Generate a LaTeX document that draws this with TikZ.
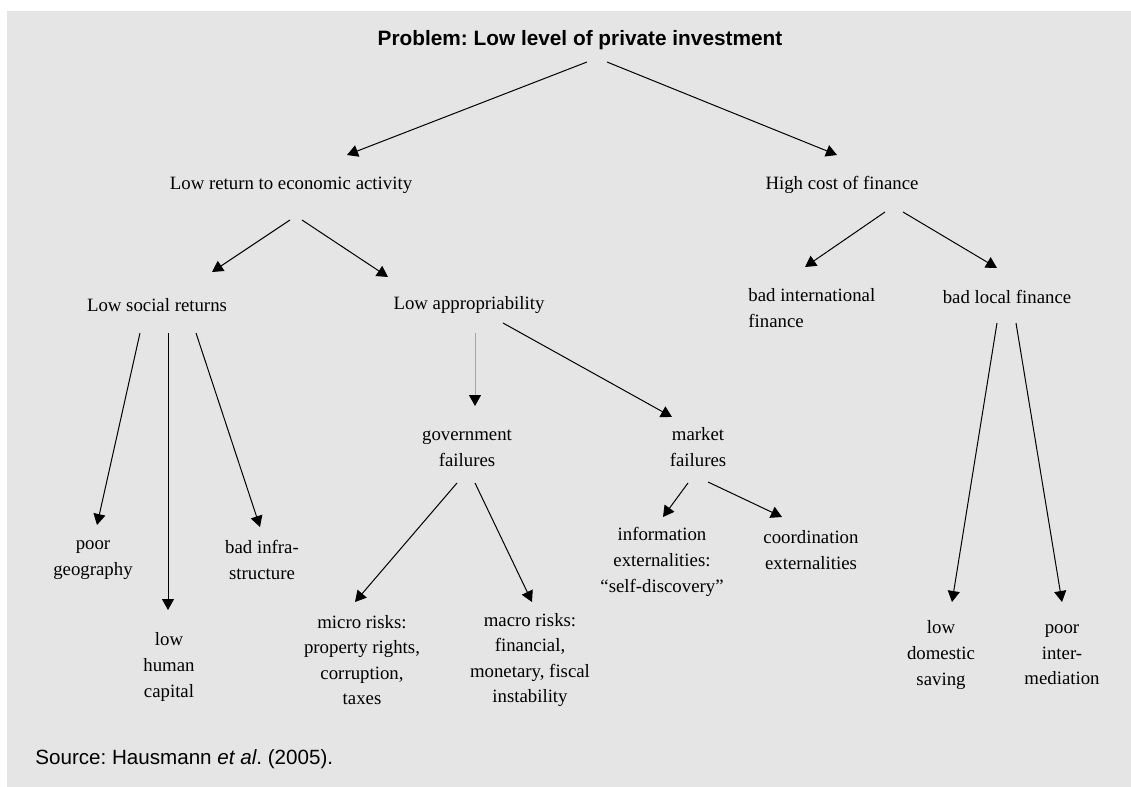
\documentclass[tikz,border=0pt]{standalone}
\usepackage{fontspec}
\setmainfont{Liberation Serif}
\setsansfont{Liberation Sans}
\usepackage{tikz}
\usetikzlibrary{arrows.meta}
\usepackage{xcolor}
\definecolor{panel}{RGB}{229,229,229}
\definecolor{paleline}{RGB}{165,165,165}
\frenchspacing

\begin{document}
\begin{tikzpicture}[
        x=0.5pt, y=-0.5pt,
        every node/.style={font=\fontsize{9.4}{12.8}\selectfont, inner sep=0pt},
        cause/.style={align=center},
        heading/.style={font=\fontsize{10.4}{12}\selectfont\sffamily\bfseries},
        source/.style={font=\fontsize{10.3}{12}\selectfont\sffamily, anchor=west},
        arrowstyle/.style={-{Triangle[length=5.5pt, width=6pt, color=black]}, line width=0.5pt, black}
    ]
        \useasboundingbox (0,0) rectangle (1131,787);
        \fill[panel] (7,11) rectangle (1131,787);

        \node[heading] (top) at (580,40) {Problem: Low level of private investment};

        \node[cause] (lra) at (291,185) {Low return to economic activity};
        \node[cause] (hcf) at (842,185) {High cost of finance};

        \node[cause] (lsr) at (157,305) {Low social returns};
        \node[cause] (lap) at (469,305) {Low appropriability};
        \node[align=left, anchor=west] (bif) at (748,308) {bad international\\finance};
        \node[cause] (blf) at (1007,297) {bad local finance};

        \node[cause] (gf) at (467,448) {government\\failures};
        \node[cause] (mf) at (698,447) {market\\failures};

        \node[cause] (pg) at (93,560) {poor\\geography};
        \node[cause] (lhc) at (169,667) {low\\human\\capital};
        \node[cause] (bis) at (262,560) {bad infra-\\structure};
        \node[cause] (mir) at (362,660) {micro risks:\\property rights,\\corruption,\\taxes};
        \node[cause] (mar) at (530,660) {macro risks:\\financial,\\monetary, fiscal\\instability};
        \node[cause] (ie) at (662,562) {information\\externalities:\\“self-discovery”};
        \node[cause] (ce) at (811,550) {coordination\\externalities};
        \node[cause] (lds) at (941,655) {low\\domestic\\saving};
        \node[cause] (pim) at (1062,655) {poor\\inter-\\mediation};

        \node[source] (src) at (35,759) {Source: Hausmann \textit{et al}. (2005).};

        \draw[arrowstyle] ([shift={(7,22)}]top.center) -- ([shift={(56,-30)}]lra.center);
        \draw[arrowstyle] ([shift={(27,22)}]top.center) -- ([shift={(-5,-30)}]hcf.center);
        \draw[arrowstyle] ([shift={(-1,35)}]lra.center) -- ([shift={(55,-33)}]lsr.center);
        \draw[arrowstyle] ([shift={(11,35)}]lra.center) -- ([shift={(-81,-28)}]lap.center);
        \draw[arrowstyle] ([shift={(43,27)}]hcf.center) -- ([shift={(57,-41)}]bif.west);
        \draw[arrowstyle] ([shift={(61,27)}]hcf.center) -- ([shift={(-10,-29)}]blf.center);
        \draw[arrowstyle] ([shift={(-17,28)}]lsr.center) -- ([shift={(4,-35)}]pg.center);
        \draw[arrowstyle] ([shift={(11,28)}]lsr.center) -- ([shift={(-1,-57)}]lhc.center);
        \draw[arrowstyle] ([shift={(39,28)}]lsr.center) -- ([shift={(-2,-33)}]bis.center);
        \draw[arrowstyle, draw=paleline] ([shift={(6,28)}]lap.center) -- ([shift={(8,-42)}]gf.center);
        \draw[arrowstyle] ([shift={(34,18)}]lap.center) -- ([shift={(-26,-30)}]mf.center);
        \draw[arrowstyle] ([shift={(-10,35)}]gf.center) -- ([shift={(-7,-58)}]mir.center);
        \draw[arrowstyle] ([shift={(8,35)}]gf.center) -- ([shift={(2,-58)}]mar.center);
        \draw[arrowstyle] ([shift={(-10,36)}]mf.center) -- ([shift={(1,-45)}]ie.center);
        \draw[arrowstyle] ([shift={(10,35)}]mf.center) -- ([shift={(-29,-33)}]ce.center);
        \draw[arrowstyle] ([shift={(-10,26)}]blf.center) -- ([shift={(11,-53)}]lds.center);
        \draw[arrowstyle] ([shift={(9,26)}]blf.center) -- ([shift={(0,-53)}]pim.center);
    \end{tikzpicture}
\end{document}
